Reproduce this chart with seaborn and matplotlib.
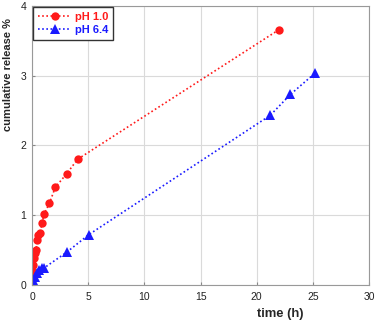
import matplotlib
matplotlib.use("Agg")
import matplotlib.pyplot as plt
import seaborn as sns
import pandas as pd

t_ph1 = [0.0, 0.05, 0.1, 0.15, 0.25, 0.35, 0.47, 0.55, 0.7, 0.9, 1.05, 1.55, 2.07, 3.07, 4.05, 22.0]
r_ph1 = [0.0, 0.19, 0.28, 0.38, 0.45, 0.5, 0.64, 0.71, 0.75, 0.88, 1.01, 1.17, 1.4, 1.59, 1.8, 3.66]
t_ph6 = [0.0, 0.1, 0.25, 0.4, 0.6, 0.85, 1.05, 3.1, 5.05, 21.2, 23.0, 25.15]
r_ph6 = [0.0, 0.07, 0.12, 0.17, 0.21, 0.24, 0.24, 0.47, 0.72, 2.43, 2.73, 3.03]
labels = ["pH 1.0", "pH 6.4"]

df = pd.concat([
    pd.DataFrame({"time": t_ph1, "release": r_ph1, "series": labels[0]}),
    pd.DataFrame({"time": t_ph6, "release": r_ph6, "series": labels[1]}),
])

sns.set_theme(style="whitegrid")
plt.rcParams['font.family'] = ['Liberation Sans', 'DejaVu Sans']

fig = plt.figure(figsize=(3.77, 3.23), dpi=100)
ax = fig.add_axes([0.085, 0.118, 0.894, 0.864])

colors = {"pH 1.0": "#ff1a1a", "pH 6.4": "#1a1aff"}
markers = {"pH 1.0": "o", "pH 6.4": "^"}
msizes = {"pH 1.0": 6, "pH 6.4": 7}
for lab in labels:
    sub = df[df.series == lab]
    sns.lineplot(data=sub, x="time", y="release", ax=ax, color=colors[lab],
                 marker=markers[lab], markersize=msizes[lab], markeredgewidth=0,
                 linestyle=(0, (1, 1.5)), linewidth=1.2, label=lab,
                 estimator=None, sort=False)

ax.set_xlim(0, 30)
ax.set_ylim(0, 4)
ax.set_xticks([0, 5, 10, 15, 20, 25, 30])
ax.set_yticks([0, 1, 2, 3, 4])
ax.grid(True, color="#dadada", linewidth=0.8)
for s in ax.spines.values():
    s.set_color("#999999")
    s.set_linewidth(0.8)
ax.tick_params(labelsize=7.5, direction="in", length=2.5, width=0.8, color="#888888",
               labelcolor="#222222", bottom=True, left=True)
ax.tick_params(axis="x", pad=5)
ax.tick_params(axis="y", pad=4)
ax.set_xlabel("time (h)", fontsize=9.4, fontweight="bold")
ax.set_ylabel("cumulative release %", fontsize=8, fontweight="bold")
ax.xaxis.set_label_coords(0.736, -0.083)
ax.yaxis.set_label_coords(-0.056, 0.753)

leg = ax.legend(loc="upper left", fontsize=8, frameon=True, fancybox=False,
                framealpha=1, borderaxespad=0.1, handlelength=3, handletextpad=0.3,
                borderpad=0.45, labelspacing=0.25)
leg.get_frame().set_edgecolor("#333333")
leg.get_frame().set_linewidth(1.0)
for txt, lab in zip(leg.get_texts(), labels):
    txt.set_color(colors[lab])
    txt.set_fontweight("bold")

fig.savefig("out.png", dpi=100)
